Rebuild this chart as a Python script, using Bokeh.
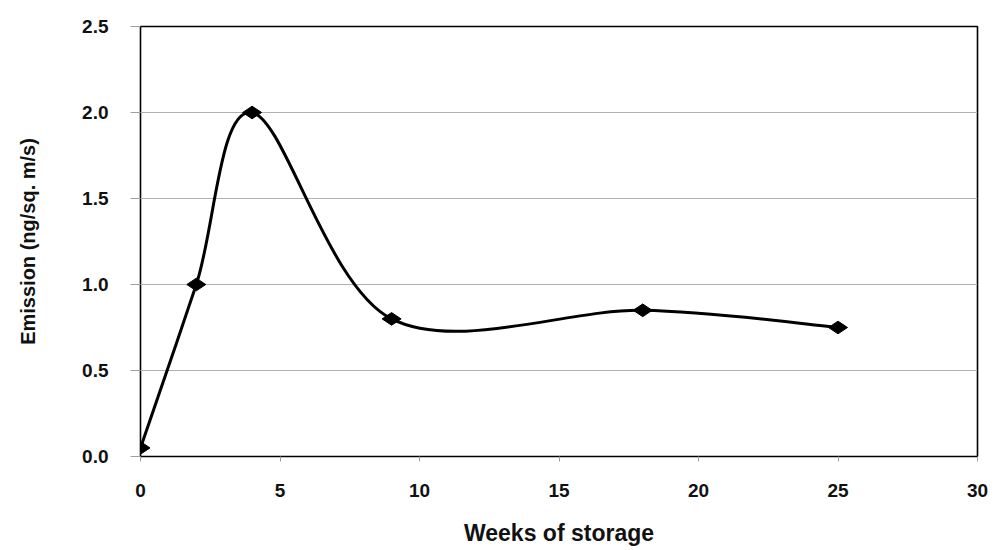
import math
from bokeh.plotting import figure
from bokeh.models import Range1d, FixedTicker, CustomJSTickFormatter
from bokeh.embed import file_html
from bokeh.resources import INLINE

# Data
weeks = [0, 2, 4, 9, 18, 25]
emission = [0.05, 1.0, 2.0, 0.8, 0.85, 0.75]
x_ticks = [0, 5, 10, 15, 20, 25, 30]
y_ticks = [0.0, 0.5, 1.0, 1.5, 2.0, 2.5]

p = figure(width=992, height=548, output_backend="svg", toolbar_location=None,
           x_range=Range1d(0, 30), y_range=Range1d(0, 2.5),
           min_border_left=140, min_border_right=15, min_border_top=26, min_border_bottom=92)

p.background_fill_color = "white"
p.border_fill_color = "white"
p.outline_line_color = "black"
p.outline_line_width = 1.6

# Smoothed line (Catmull-Rom style bezier through data points, like Excel's smoothing)
n = len(weeks)
x0s, y0s, x1s, y1s, cx0, cy0, cx1, cy1 = [], [], [], [], [], [], [], []
for i in range(n - 1):
    im1 = max(i - 1, 0)
    ip2 = min(i + 2, n - 1)
    x0s.append(weeks[i]); y0s.append(emission[i])
    x1s.append(weeks[i + 1]); y1s.append(emission[i + 1])
    cx0.append(weeks[i] + (weeks[i + 1] - weeks[im1]) / 6)
    cy0.append(emission[i] + (emission[i + 1] - emission[im1]) / 6)
    cx1.append(weeks[i + 1] - (weeks[ip2] - weeks[i]) / 6)
    cy1.append(emission[i + 1] - (emission[ip2] - emission[i]) / 6)

p.bezier(x0=x0s, y0=y0s, x1=x1s, y1=y1s, cx0=cx0, cy0=cy0, cx1=cx1, cy1=cy1,
         line_color="black", line_width=3)
p.scatter(weeks, emission, marker="diamond", size=19, angle=math.pi / 2, color="black")

# Grid
p.xgrid.visible = False
p.ygrid.grid_line_color = "#b0b0b0"
p.ygrid.grid_line_width = 1
p.ygrid.ticker = FixedTicker(ticks=y_ticks)

# Axes
for ax in (p.xaxis[0], p.yaxis[0]):
    ax.axis_line_color = None
    ax.major_tick_line_color = "#a0a0a0"
    ax.minor_tick_line_color = None
    ax.major_tick_in = 0
    ax.major_label_text_font = "Liberation Sans"
    ax.major_label_text_font_style = "bold"
    ax.major_label_text_font_size = "19px"
    ax.major_label_text_color = "#111111"
    ax.axis_label_text_font = "Liberation Sans"
    ax.axis_label_text_font_style = "bold"
    ax.axis_label_text_color = "#111111"

p.xaxis.ticker = FixedTicker(ticks=x_ticks)
p.xaxis.major_tick_out = 5
p.xaxis.major_label_standoff = 22
p.xaxis.axis_label = "Weeks of storage"
p.xaxis.axis_label_text_font_size = "23px"
p.xaxis.axis_label_standoff = 20

p.yaxis.ticker = FixedTicker(ticks=y_ticks)
p.yaxis.formatter = CustomJSTickFormatter(code="return tick.toFixed(1);")
p.yaxis.major_tick_out = 10
p.yaxis.major_label_standoff = 22
p.yaxis.axis_label = "Emission (ng/sq. m/s)"
p.yaxis.axis_label_text_font_size = "20px"
p.yaxis.axis_label_standoff = 40

open("out.html", "w").write(file_html(p, INLINE))
